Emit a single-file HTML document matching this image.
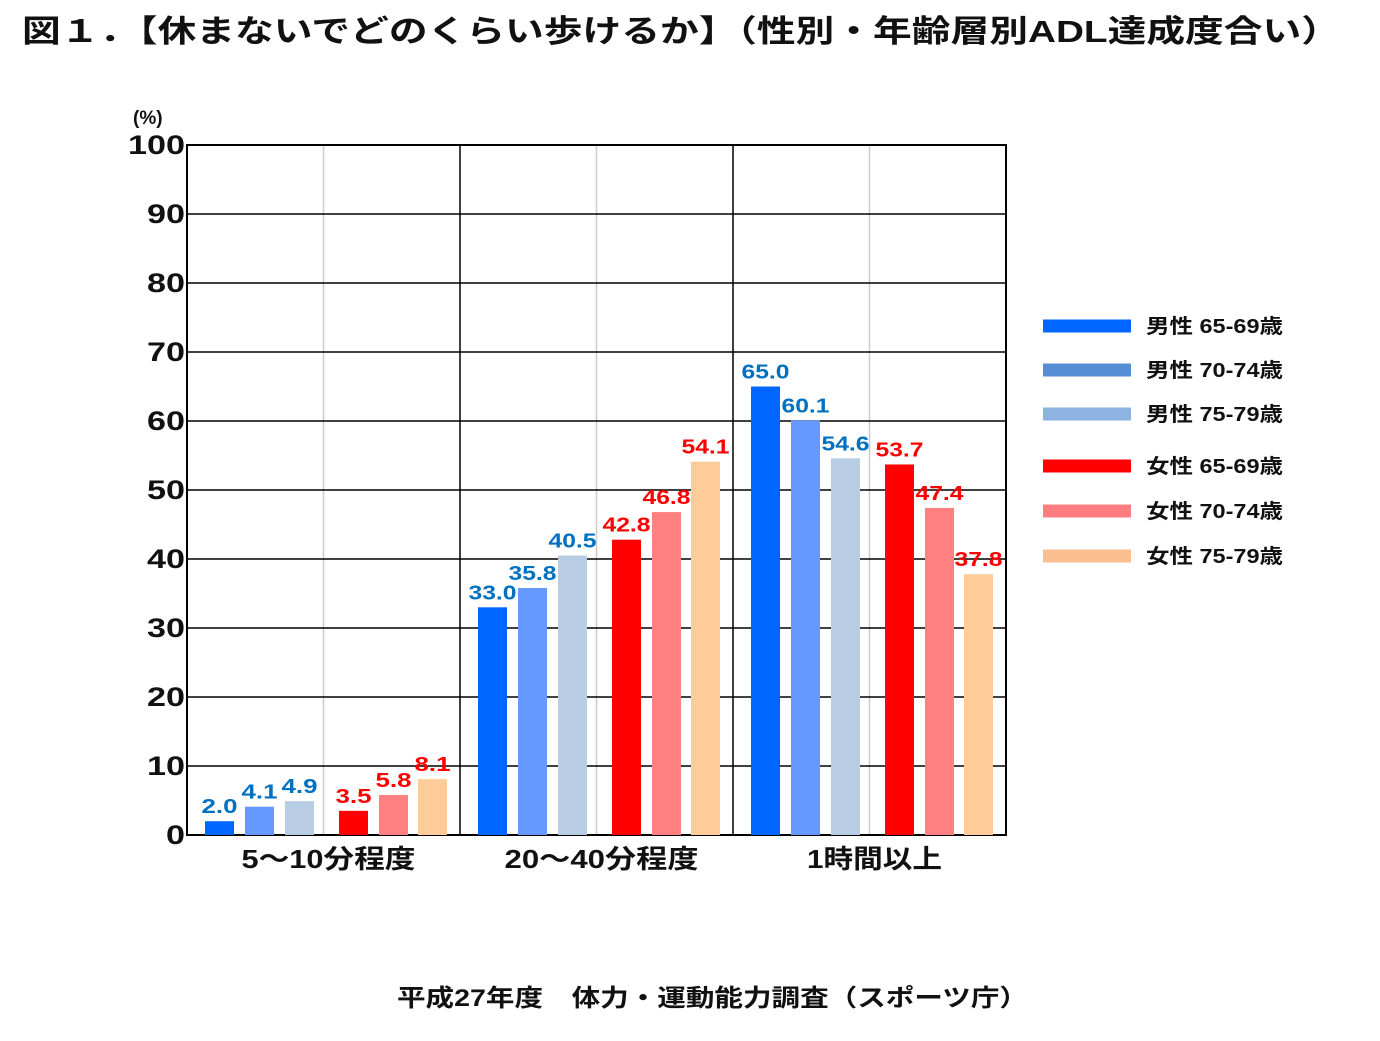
<!DOCTYPE html>
<html><head><meta charset="utf-8">
<style>
body{margin:0;background:#fff;width:1380px;height:1036px;overflow:hidden;font-family:"Liberation Sans","Noto Sans CJK JP",sans-serif;}
</style></head>
<body>
<svg width="1380" height="1036" xmlns="http://www.w3.org/2000/svg" style="font-family:'Liberation Sans','Noto Sans CJK JP',sans-serif;font-weight:bold">
<text x="22" y="42" font-size="31" fill="#111" textLength="1318" lengthAdjust="spacingAndGlyphs">図１．【休まないでどのくらい歩けるか】（性別・年齢層別ADL達成度合い）</text>
<text x="133" y="124" font-size="19" fill="#111">(%)</text>
<g id="grid"></g>
<g id="bars"></g>
<g id="legend"></g>
<text x="397" y="1006" font-size="24" fill="#111" textLength="631" lengthAdjust="spacingAndGlyphs">平成27年度　体力・運動能力調査（スポーツ庁）</text>
</svg>
<script>
const categories=["5〜10分程度","20〜40分程度","1時間以上"];
const seriesNames=["男性 65-69歳","男性 70-74歳","男性 75-79歳","女性 65-69歳","女性 70-74歳","女性 75-79歳"];
const m6569=[2.0,33.0,65.0];
const m7074=[4.1,35.8,60.1];
const m7579=[4.9,40.5,54.6];
const f6569=[3.5,42.8,53.7];
const f7074=[5.8,46.8,47.4];
const f7579=[8.1,54.1,37.8];
const yTicks=[0,10,20,30,40,50,60,70,80,90,100];
const series=[m6569,m7074,m7579,f6569,f7074,f7579];
const barColors=["#0066ff","#6699ff","#b8cce4","#ff0000","#ff8080","#ffcc99"];
const legColors=["#0066ff","#558ed5","#8db3e2","#ff0000","#ff7c80","#fac090"];
const labColors=["#0070c0","#0070c0","#0070c0","#ff0000","#ff0000","#ff0000"];
const catLen=[174,194,135];
const NS="http://www.w3.org/2000/svg";
const X0=187,X1=1006,Y0=835,Y1=145;
const gw=(X1-X0)/categories.length;
const y=v=>Y0-(v/100)*(Y0-Y1);
const off=[18,58,98,152,192,231];
function mk(t,a,p){const e=document.createElementNS(NS,t);for(const k in a)e.setAttribute(k,a[k]);p.appendChild(e);return e;}
const grid=document.getElementById('grid'),bars=document.getElementById('bars'),leg=document.getElementById('legend');
categories.forEach((c,i)=>{
 const cx=X0+gw*i+gw/2;
 const l=mk('line',{x1:cx,x2:cx,y1:Y1,y2:Y0,stroke:'#ccc','stroke-width':1.5},grid);
 
 
 if(i>0){const d=mk('line',{x1:X0+gw*i,x2:X0+gw*i,y1:Y1,y2:Y0,stroke:'#000','stroke-width':1.5},grid);
 
 }
 const t=mk('text',{x:cx+5,y:868,'font-size':26,'text-anchor':'middle',fill:'#111',textLength:catLen[i],lengthAdjust:'spacingAndGlyphs'},grid);t.textContent=c;
 
 
});
yTicks.forEach(v=>{
 const g=mk('line',{x1:X0,x2:X1,y1:y(v),y2:y(v),stroke:'#000','stroke-width':1.5},grid);
 
 
 const t=mk('text',{x:185,y:y(v)+9,'font-size':27,'text-anchor':'end',fill:'#111',textLength:String(v).length*19,lengthAdjust:'spacingAndGlyphs'},grid);t.textContent=v;
 
 
});
const fr=mk('rect',{x:X0,y:Y1,width:X1-X0,height:Y0-Y1,fill:'none',stroke:'#000','stroke-width':2},grid);


series.forEach((s,si)=>{
 s.forEach((v,ci)=>{
  const bx=X0+gw*ci+off[si];
  const r=mk('rect',{x:bx,y:y(v),width:29,height:Y0-y(v),fill:barColors[si]},bars);
  
  
  const txt=v.toFixed(1);
  const t=mk('text',{x:bx+14.5,y:y(v)-8,'font-size':20,'text-anchor':'middle',fill:labColors[si],textLength:txt.length*12,lengthAdjust:'spacingAndGlyphs'},bars);t.textContent=txt;
  
  
 });
});
const ly=[326,370,414,466,511,556];
seriesNames.forEach((n,i)=>{
 const r=mk('rect',{x:1043,y:ly[i]-6.5,width:88,height:13,fill:legColors[i]},leg);
 
 
 const t=mk('text',{x:1146,y:ly[i]+7,'font-size':20,fill:'#111',textLength:137,lengthAdjust:'spacingAndGlyphs'},leg);t.textContent=n;
 
 
});
</script>
</body></html>
